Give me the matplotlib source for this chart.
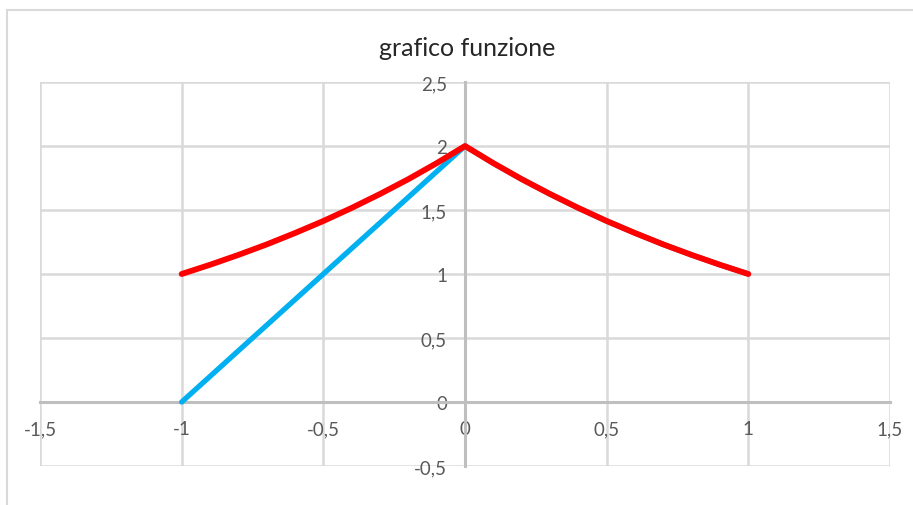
import matplotlib.pyplot as plt
from matplotlib.patches import Rectangle

# punti della tabella (passo 0,1)
x_vals = [-1.0, -0.9, -0.8, -0.7, -0.6, -0.5, -0.4, -0.3, -0.2, -0.1, 0.0,
          0.1, 0.2, 0.3, 0.4, 0.5, 0.6, 0.7, 0.8, 0.9, 1.0]
f_blue = [0.0, 0.2, 0.4, 0.6, 0.8, 1.0, 1.2, 1.4, 1.6, 1.8, 2.0,
          1.866, 1.741, 1.625, 1.516, 1.414, 1.320, 1.231, 1.149, 1.072, 1.0]
f_red = [1.0, 1.072, 1.149, 1.231, 1.320, 1.414, 1.516, 1.625, 1.741, 1.866, 2.0,
         1.866, 1.741, 1.625, 1.516, 1.414, 1.320, 1.231, 1.149, 1.072, 1.0]

x_ticks = [-1.5, -1, -0.5, 0, 0.5, 1, 1.5]
y_ticks = [-0.5, 0, 0.5, 1, 1.5, 2, 2.5]

def virgola(v):
    s = ('%g' % v).replace('.', ',')
    return s

plt.rcParams['font.family'] = ['Lato', 'DejaVu Sans']

fig = plt.figure(figsize=(9.13, 5.06), dpi=100)
W, H = 913, 506
ax = fig.add_axes([40 / W, (H - 467) / H, (890 - 40) / W, (467 - 83) / H])

# bordo del grafico
fig.patches.append(Rectangle((7 / W, -0.1), 1.2, 1.1 - 11 / H, transform=fig.transFigure,
                             fill=False, edgecolor='#d9d9d9', linewidth=1.5))

ax.plot(x_vals, f_blue, color='#00b0f0', linewidth=3.8, zorder=3, solid_capstyle='round')
ax.plot(x_vals, f_red, color='#ff0000', linewidth=4.2, zorder=4, solid_capstyle='round',
        solid_joinstyle='round')

ax.set_xlim(-1.5, 1.5)
ax.set_ylim(-0.5, 2.5)
ax.set_xticks(x_ticks)
ax.set_yticks(y_ticks)
ax.set_xticklabels([virgola(v) for v in x_ticks])
ax.set_yticklabels([virgola(v) for v in y_ticks])
ax.grid(True, color='#d9d9d9', linewidth=1.8)
ax.set_axisbelow(True)

for s in ['top', 'right']:
    ax.spines[s].set_visible(False)
ax.spines['left'].set_position(('data', 0))
ax.spines['bottom'].set_position(('data', 0))
for s in ['left', 'bottom']:
    ax.spines[s].set_color('#bfbfbf')
    ax.spines[s].set_linewidth(2.2)
    ax.spines[s].set_zorder(2)

ax.tick_params(axis='both', length=0, labelsize=13.5, labelcolor='#595959')
ax.tick_params(axis='y', pad=13)
ax.tick_params(axis='x', pad=13)

fig.text(467 / W, 1 - 48 / H, 'grafico funzione', ha='center', va='center',
         fontsize=18, color='#262626')

fig.savefig('out.png', dpi=100)
